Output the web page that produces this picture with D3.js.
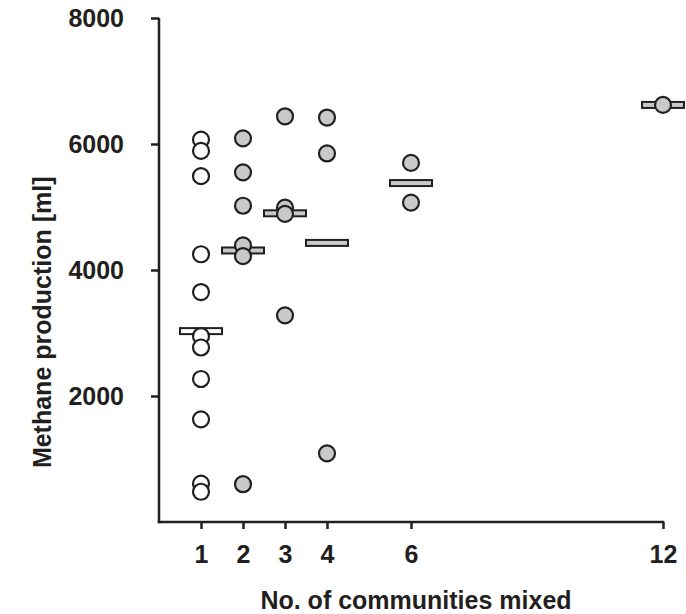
<!DOCTYPE html>
<html><head><meta charset="utf-8">
<script src="https://cdn.jsdelivr.net/npm/d3@7"></script>
<style>body{margin:0;background:#fff;}svg{display:block;}</style>
</head><body>
<svg id="chart" width="686" height="614"></svg>
<script>
// Data
const groups = [1, 2, 3, 4, 6, 12];
const xTicks = [1, 2, 3, 4, 6, 12];
const yTicks = [2000, 4000, 6000, 8000];
const values1 = [6070, 5890, 5490, 4250, 3650, 2950, 2770, 2270, 1630, 610, 480];
const values2 = [6090, 5550, 5020, 4390, 4220, 600];
const values3 = [6440, 4990, 4890, 3280];
const values4 = [6420, 5850, 1090];
const values6 = [5700, 5070];
const values12 = [6620];
const groupMeans = [3030, 4310, 4900, 4430, 5380, 6620];
const allValues = [values1, values2, values3, values4, values6, values12];

const ink = "#231f20", grey = "#c8c9cb";
const svg = d3.select("#chart");
const x = d3.scaleLinear().domain([0, 12]).range([159, 663]);
const y = d3.scaleLinear().domain([0, 8000]).range([522, 18]);

const font = "'Liberation Sans', Arial, Helvetica, sans-serif";

// Axes
const yAxis = svg.append("g").attr("transform", `translate(${x(0)},0)`)
  .call(d3.axisLeft(y).tickValues(yTicks).tickFormat(d3.format("d")).tickSize(8).tickPadding(27).tickSizeOuter(0));
const xAxis = svg.append("g").attr("transform", `translate(0,${y(0)})`)
  .call(d3.axisBottom(x).tickValues(xTicks).tickFormat(d3.format("d")).tickSize(7).tickPadding(16).tickSizeOuter(0));
[yAxis, xAxis].forEach(g => {
  g.select(".domain").attr("stroke", ink).attr("stroke-width", 2.5);
  g.selectAll(".tick line").attr("stroke", ink).attr("stroke-width", 2.5);
  g.selectAll(".tick text").attr("fill", ink).style("font-family", font)
    .style("font-weight", "bold").style("font-size", "25px");
});
xAxis.select(".domain").attr("d", `M${x(0)-1.25},0H${x(12)+1.25}`);
yAxis.select(".domain").attr("d", `M0,${y(8000)}V${y(0)+1.25}`);

// Titles
svg.append("text").attr("x", 416).attr("y", 609).attr("text-anchor", "middle")
  .attr("fill", ink).style("font-family", font).style("font-weight", "bold").style("font-size", "25px")
  .text("No. of communities mixed");
svg.append("text").attr("transform", `translate(51,${y(3170)}) rotate(-90)`).attr("text-anchor", "middle")
  .attr("fill", ink).style("font-family", font).style("font-weight", "bold").style("font-size", "25px")
  .text("Methane production [ml]");

// Points
const pts = [];
groups.forEach((g, i) => allValues[i].forEach(v => pts.push({g, v, first: i === 0})));

// Mean bars
const barW = 42, barH = 6;
svg.append("g").selectAll("rect").data(groups.map((g, i) => ({g, m: groupMeans[i], first: i === 0})))
  .join("rect")
  .attr("x", d => x(d.g) - barW / 2).attr("y", d => y(d.m) - barH / 2)
  .attr("width", barW).attr("height", barH)
  .attr("fill", d => d.first ? "#fff" : grey).attr("stroke", ink).attr("stroke-width", 2);

svg.append("g").selectAll("circle").data(pts).join("circle")
  .attr("cx", d => x(d.g)).attr("cy", d => y(d.v)).attr("r", 8)
  .attr("fill", d => d.first ? "#fff" : grey).attr("stroke", ink).attr("stroke-width", 2.2);
</script>
</body></html>
